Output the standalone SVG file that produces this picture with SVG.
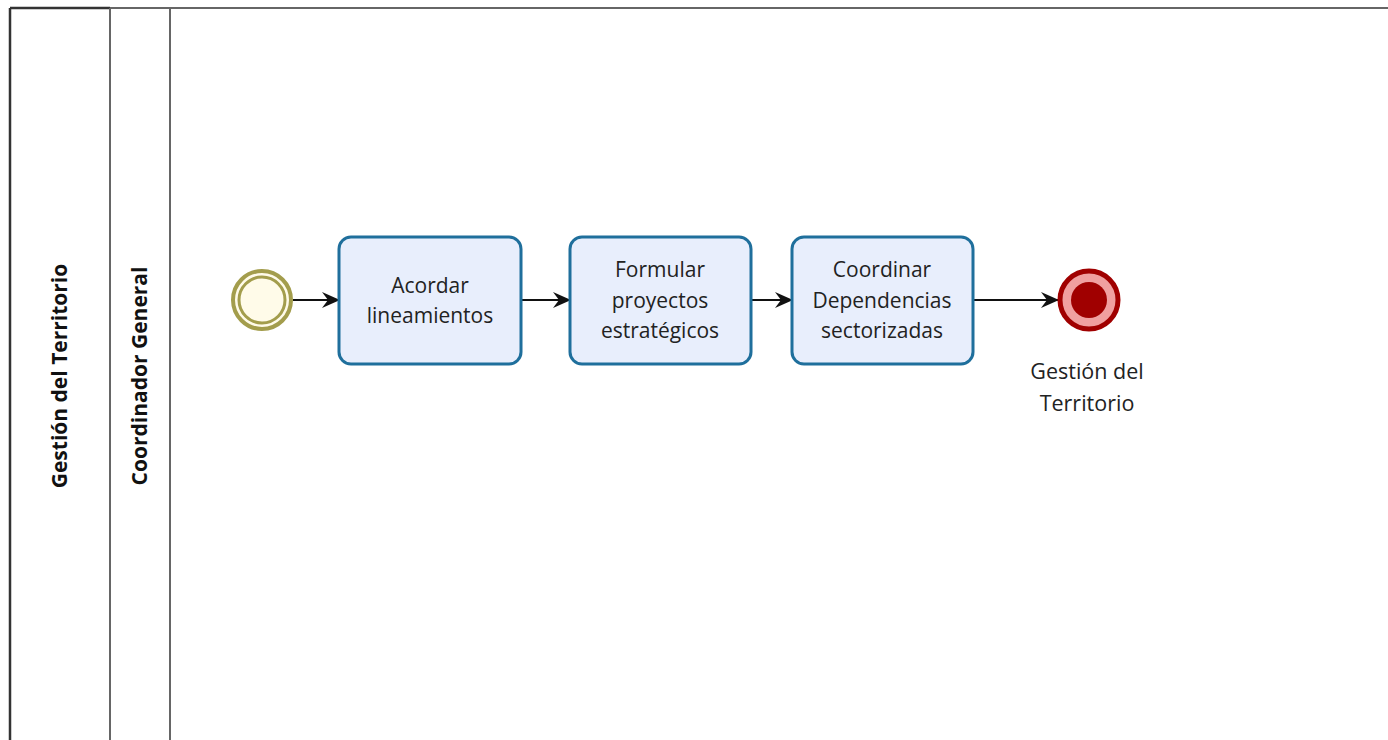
<svg xmlns="http://www.w3.org/2000/svg" width="1388" height="740" viewBox="0 0 1388 740">
<defs>
<style>
.lane{fill:none;stroke:#666;stroke-width:2}
.lbl{font-family:"Open Sans","Noto Sans",sans-serif;font-size:21px;font-weight:bold;fill:#111;text-anchor:middle}
.task rect{fill:#e8eefc;stroke:#1f6f9c;stroke-width:3}
.task text,.evl{font-family:"Open Sans","Noto Sans",sans-serif;font-size:21px;fill:#222;text-anchor:middle}
.evl{font-size:21.5px}
.flow{fill:none;stroke:#111;stroke-width:2.2}
</style>
<marker id="arr" markerWidth="18" markerHeight="18" refX="17" refY="9" orient="auto" markerUnits="userSpaceOnUse" viewBox="0 0 18 18">
<path d="M0,1 L18,9 L0,17 L6,9 Z" fill="#111"/>
</marker>
</defs>
<rect width="1388" height="740" fill="#fff"/>
<g id="pool">
<line class="lane" x1="10" y1="8" x2="1388" y2="8"/>
<line x1="10" y1="8" x2="10" y2="740" stroke="#333" stroke-width="2.5"/>
<line x1="10" y1="8" x2="110" y2="8" stroke="#333" stroke-width="2.5"/>
<line class="lane" x1="110" y1="8" x2="110" y2="740"/>
<line class="lane" x1="170" y1="8" x2="170" y2="740"/>
<text class="lbl" transform="translate(67,376) rotate(-90)">Gestión del Territorio</text>
<text class="lbl" transform="translate(147,376) rotate(-90)">Coordinador General</text>
</g>
<g id="connectors">
<line class="flow" x1="293" y1="300" x2="339" y2="300" marker-end="url(#arr)"/>
<line class="flow" x1="521" y1="300" x2="570" y2="300" marker-end="url(#arr)"/>
<line class="flow" x1="751" y1="300" x2="792" y2="300" marker-end="url(#arr)"/>
<line class="flow" x1="973" y1="300" x2="1058" y2="300" marker-end="url(#arr)"/>
</g>
<g id="start">
<circle cx="262" cy="300" r="29" fill="#fffbe9" stroke="#a39d4c" stroke-width="4"/>
<circle cx="262" cy="300" r="23" fill="none" stroke="#a39d4c" stroke-width="3"/>
</g>
<g id="task1" class="task">
<rect x="339" y="237" width="182" height="127" rx="12"/>
<text x="430" y="293">Acordar</text>
<text x="430" y="323">lineamientos</text>
</g>
<g id="task2" class="task">
<rect x="570" y="237" width="181" height="127" rx="12"/>
<text x="660" y="277">Formular</text>
<text x="660" y="308">proyectos</text>
<text x="660" y="338">estratégicos</text>
</g>
<g id="task3" class="task">
<rect x="792" y="237" width="181" height="127" rx="12"/>
<text x="882" y="277">Coordinar</text>
<text x="882" y="308">Dependencias</text>
<text x="882" y="338">sectorizadas</text>
</g>
<g id="end">
<circle cx="1089" cy="300" r="29" fill="#f0a0a0" stroke="#a00000" stroke-width="5"/>
<circle cx="1089" cy="300" r="18" fill="#a00000"/>
<text class="evl" x="1087" y="379">Gestión del</text>
<text class="evl" x="1087" y="411">Territorio</text>
</g>
</svg>
